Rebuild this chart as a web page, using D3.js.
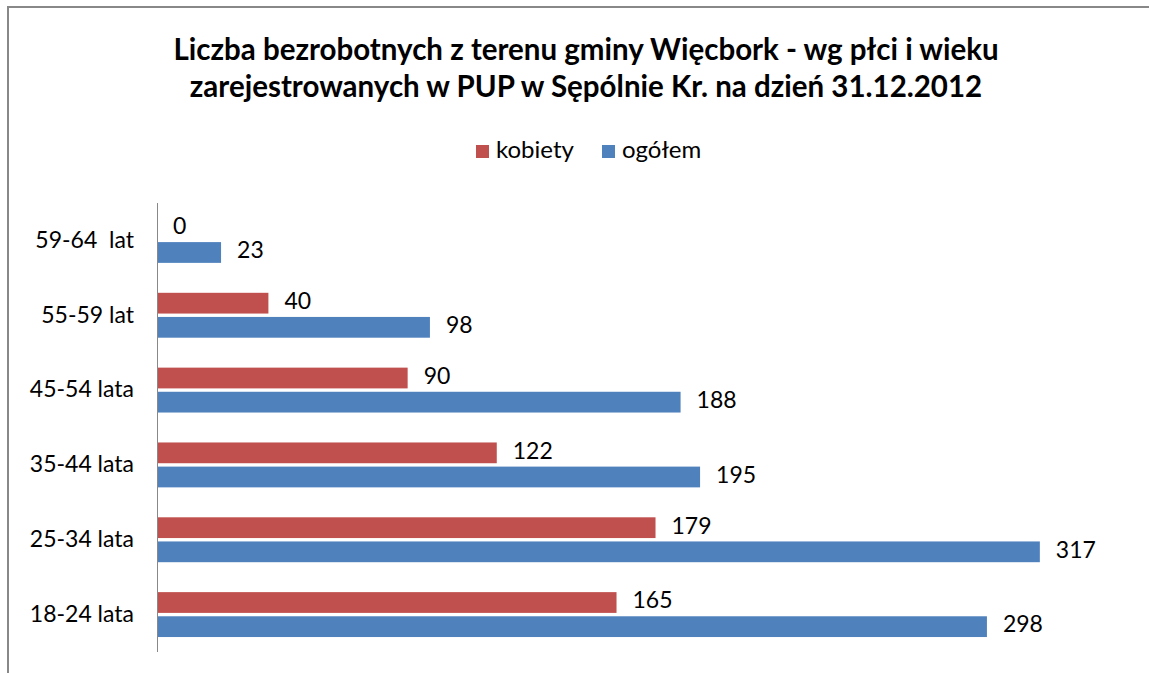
<!DOCTYPE html>
<html>
<head>
<meta charset="utf-8">
<script src="https://cdn.jsdelivr.net/npm/d3@7"></script>
<style>
  body { margin: 0; background: #fff; }
  svg text { font-family: Lato, Calibri, "Open Sans", sans-serif; fill: #000; }
</style>
</head>
<body>
<svg id="chart"></svg>
<script>
// Chart data
const categories = ['18-24 lata', '25-34 lata', '35-44 lata', '45-54 lata', '55-59 lat', '59-64  lat'];
const kobiety = [165, 179, 122, 90, 40, 0];
const ogolem = [298, 317, 195, 188, 98, 23];
const seriesNames = ['kobiety', 'ogółem'];
const colors = ['#c0504d', '#4f81bd'];
const titleLines = [
    'Liczba bezrobotnych z terenu gminy Więcbork - wg płci i wieku',
    'zarejestrowanych w PUP w Sępólnie Kr. na dzień 31.12.2012'
];

const width = 1149;
const height = 673;
const margin = {top: 203, right: 17, bottom: 21, left: 157};

let svg = d3.select('#chart')
    .attr('width', width)
    .attr('height', height);

// outer frame of the chart area
svg.append('path')
    .attr('d', 'M8,' + height + ' V7 H' + width)
    .attr('fill', 'none')
    .attr('stroke', '#888')
    .attr('stroke-width', 2);

// Title
svg.append('g').selectAll('text')
    .data(titleLines)
    .join('text')
    .attr('x', 586)
    .attr('y', (d, i) => 52 + i * 37)
    .attr('text-anchor', 'middle')
    .attr('dominant-baseline', 'middle')
    .attr('font-size', 29.5)
    .attr('font-weight', 'bold')
    .text(d => d);

// Legend
let legend = svg.append('g');
const legendX = [476, 602];
seriesNames.forEach((name, i) => {
    legend.append('rect')
        .attr('x', legendX[i])
        .attr('y', 145)
        .attr('width', 13)
        .attr('height', 13)
        .attr('fill', colors[i]);
    legend.append('text')
        .attr('x', legendX[i] + 20)
        .attr('y', 152)
        .attr('dominant-baseline', 'middle')
        .attr('font-size', 24)
        .text(name);
});

// Scales
let x = d3.scaleLinear()
    .domain([0, 350])
    .range([margin.left, margin.left + 350 * 2.785]);

let y = d3.scaleBand()
    .domain(categories.slice().reverse())
    .range([margin.top, height - margin.bottom])
    .paddingInner(0.4)
    .paddingOuter(0.2);

let ySub = d3.scaleBand()
    .domain(seriesNames)
    .range([0, y.bandwidth()])
    .paddingInner(0.14);

// Category axis
let yAxis = svg.append('g')
    .attr('transform', 'translate(' + margin.left + ',0)')
    .call(d3.axisLeft(y).tickSize(0).tickPadding(23).tickSizeOuter(0));
yAxis.select('.domain')
    .attr('stroke', '#888')
    .attr('d', 'M0.5,' + margin.top + 'V' + (height - margin.bottom));
yAxis.selectAll('text')
    .attr('font-size', 23)
    .attr('font-family', 'Lato, Calibri, sans-serif')
    .style('white-space', 'pre');

// Bars
const rows = categories.map((c, i) => ({cat: c, values: [kobiety[i], ogolem[i]]}));
let groups = svg.append('g').selectAll('g')
    .data(rows)
    .join('g')
    .attr('transform', d => 'translate(0,' + y(d.cat) + ')');

groups.selectAll('rect')
    .data(d => d.values.map((v, i) => ({name: seriesNames[i], value: v, color: colors[i]})))
    .join('rect')
    .attr('x', x(0) + 1)
    .attr('y', d => ySub(d.name))
    .attr('width', d => Math.max(0, x(d.value) - x(0) - 1))
    .attr('height', ySub.bandwidth())
    .attr('fill', d => d.color);

groups.selectAll('text')
    .data(d => d.values.map((v, i) => ({name: seriesNames[i], value: v})))
    .join('text')
    .attr('x', d => x(d.value) + 16)
    .attr('y', d => ySub(d.name) + ySub.bandwidth() / 2)
    .attr('dominant-baseline', 'middle')
    .attr('font-size', 23)
    .text(d => d.value);
</script>
</body>
</html>
